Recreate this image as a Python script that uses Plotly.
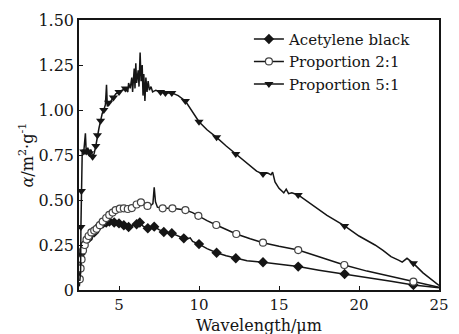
import plotly.graph_objects as go

# ---------------- data ----------------
ab_x = [2.52, 2.55, 2.6, 2.65, 2.75, 2.9, 3.1, 3.3, 3.45, 3.6, 3.8, 4.0, 4.2, 4.4, 4.7, 5.0, 5.3, 5.6,
        5.9, 6.1, 6.3, 6.5, 6.8, 7.2, 7.5, 7.8, 8.3, 8.7, 9.05, 9.3, 9.45, 9.6, 10.0, 10.5, 11.1, 11.7,
        12.3, 13.0, 14.0, 15.0, 16.2, 17.5, 19.1, 20.5, 22.0, 23.4, 25.0]
ab_y = [0.03, 0.10, 0.20, 0.26, 0.27, 0.26, 0.265, 0.28, 0.32, 0.34, 0.36, 0.37, 0.375, 0.38, 0.375,
        0.37, 0.36, 0.35, 0.36, 0.365, 0.375, 0.355, 0.343, 0.352, 0.335, 0.322, 0.315, 0.30, 0.287,
        0.285, 0.29, 0.27, 0.255, 0.23, 0.207, 0.19, 0.176, 0.163, 0.154, 0.142, 0.13, 0.11, 0.089,
        0.07, 0.048, 0.028, 0.012]
ab_marker_x = [2.6, 3.45, 3.8, 4.0, 4.2, 4.4, 4.7, 5.0, 5.3, 5.6, 6.1, 6.3, 6.8, 7.2, 7.8, 8.3, 9.05,
               10.0, 11.1, 12.3, 14.0, 16.2, 19.1, 23.4]

p21_x = [2.52, 2.55, 2.6, 2.66, 2.75, 2.86, 2.97, 3.1, 3.27, 3.45, 3.6, 3.8, 3.98, 4.2, 4.39, 4.6,
         4.79, 5.05, 5.3, 5.55, 5.8, 6.1, 6.37, 6.6, 6.78, 7.0, 7.12, 7.2, 7.28, 7.4, 7.73, 8.34, 8.8,
         9.15, 9.6, 9.96, 10.5, 11.08, 11.7, 12.33, 13.2, 14.0, 15.0, 16.2, 17.5, 19.08, 20.5, 22.0,
         23.4, 25.0]
p21_y = [0.02, 0.06, 0.12, 0.17, 0.22, 0.25, 0.28, 0.30, 0.32, 0.33, 0.34, 0.36, 0.38, 0.40, 0.417,
         0.43, 0.444, 0.452, 0.454, 0.45, 0.455, 0.475, 0.487, 0.47, 0.467, 0.47, 0.48, 0.57, 0.49,
         0.46, 0.454, 0.454, 0.45, 0.444, 0.43, 0.412, 0.385, 0.361, 0.335, 0.311, 0.285, 0.263,
         0.243, 0.222, 0.185, 0.139, 0.105, 0.075, 0.046, 0.015]
p21_marker_x = [2.55, 2.6, 2.66, 2.75, 2.86, 2.97, 3.1, 3.27, 3.45, 3.6, 3.8, 3.98, 4.2, 4.39, 4.6,
                4.79, 5.05, 5.3, 5.55, 5.8, 6.1, 6.37, 6.78, 7.73, 8.34, 9.15, 9.96, 11.08, 12.33,
                14.0, 16.2, 19.08, 23.4]

p51_x = [2.55, 2.6, 2.62, 2.65, 2.7, 2.8, 2.9, 2.95, 3.05, 3.15, 3.25, 3.35, 3.45, 3.55, 3.65, 3.75,
         3.85, 3.95, 4.05, 4.15, 4.22, 4.27, 4.35, 4.5, 4.65, 4.8, 5.0, 5.2, 5.4, 5.55, 5.6, 5.7, 5.8,
         5.85, 5.95, 6.0, 6.05, 6.1, 6.2, 6.25, 6.32, 6.38, 6.45, 6.5, 6.55, 6.62, 6.68, 6.75, 6.82,
         6.9, 7.0, 7.1, 7.3, 7.6, 7.9, 8.3, 8.7, 9.15, 9.6, 10.0, 10.5, 11.1, 11.7, 12.3, 13.0, 13.6,
         14.0, 14.3, 14.5, 14.6, 14.75, 15.0, 15.3, 15.45, 15.6, 15.8, 16.2, 17.0, 18.0, 19.1, 20.0,
         20.5, 21.0, 21.5, 22.0, 22.5, 22.7, 23.0, 23.4, 24.0, 24.5, 25.0]
p51_y = [0.05, 0.10, 0.35, 0.55, 0.76, 0.77, 0.87, 0.77, 0.79, 0.76, 0.78, 0.74, 0.76, 0.80, 0.86,
         0.90, 0.94, 0.98, 1.00, 1.03, 1.14, 1.02, 1.04, 1.05, 1.07, 1.09, 1.10, 1.11, 1.12, 1.10,
         1.15, 1.12, 1.18, 1.10, 1.23, 1.12, 1.26, 1.15, 1.22, 1.13, 1.32, 1.16, 1.25, 1.08, 1.20,
         1.05, 1.18, 1.10, 1.16, 1.11, 1.13, 1.10, 1.11, 1.10, 1.095, 1.095, 1.08, 1.05, 0.99, 0.935,
         0.89, 0.848, 0.80, 0.755, 0.70, 0.66, 0.644, 0.65, 0.64, 0.655, 0.60, 0.565, 0.54, 0.56,
         0.535, 0.54, 0.528, 0.48, 0.415, 0.356, 0.30, 0.275, 0.25, 0.22, 0.185, 0.165, 0.155, 0.176,
         0.148, 0.095, 0.06, 0.025]
p51_marker_x = [2.62, 2.65, 2.8, 2.95, 3.15, 3.35, 3.55, 3.65, 3.85, 4.05, 4.35, 4.65, 5.0, 5.4,
                7.6, 7.9, 8.3, 9.15, 10.0, 11.1, 12.3, 14.0, 16.2, 19.1, 23.4]

series_names = ["Acetylene black", "Proportion 2:1", "Proportion 5:1"]
x_ticks = [5, 10, 15, 20, 25]
y_ticks = [0, 0.25, 0.5, 0.75, 1.0, 1.25, 1.5]
y_tick_text = ["0", "0.25", "0.50", "0.75", "1.00", "1.25", "1.50"]

# ---------------- figure ----------------
FONT = "DejaVu Serif"
INK = "#151515"
fig = go.Figure()

markers = [
    dict(symbol="diamond", size=8, color=INK, line=dict(width=0)),
    dict(symbol="circle", size=7, color="white", line=dict(color="#444444", width=1.2)),
    dict(symbol="triangle-down", size=8, color=INK, line=dict(width=0)),
]
series = [(ab_x, ab_y, ab_marker_x), (p21_x, p21_y, p21_marker_x), (p51_x, p51_y, p51_marker_x)]

for name, (xs, ys, mx), mk in zip(series_names, series, markers):
    lookup = dict(zip(xs, ys))
    fig.add_trace(go.Scatter(x=xs, y=ys, mode="lines", line=dict(color=INK, width=1.5),
                             showlegend=False, hoverinfo="skip"))
    fig.add_trace(go.Scatter(x=mx, y=[lookup[v] for v in mx], mode="markers", marker=mk,
                             showlegend=False))
    fig.add_trace(go.Scatter(x=[None], y=[None], mode="lines+markers", name=name,
                             line=dict(color=INK, width=1.5), marker=mk))

fig.update_layout(
    width=459, height=334,
    margin=dict(l=79, r=10, t=20, b=44),
    paper_bgcolor="white", plot_bgcolor="white",
    font=dict(family=FONT, size=16, color=INK),
    showlegend=True,
    legend=dict(x=0.472, y=0.99, xanchor="left", yanchor="top", bgcolor="rgba(0,0,0,0)",
                font=dict(family=FONT, size=15, color=INK), tracegroupgap=0, itemwidth=30),
    xaxis=dict(range=[2.5, 25], tickvals=x_ticks, ticks="inside", ticklen=4, tickcolor=INK,
               showline=True, linecolor=INK, linewidth=1.5, mirror=True, showgrid=False,
               zeroline=False, tickfont=dict(family=FONT, size=15, color=INK)),
    yaxis=dict(range=[0, 1.5], tickvals=y_ticks, ticktext=y_tick_text, ticks="inside", ticklen=4,
               tickcolor=INK, showline=True, linecolor=INK, linewidth=1.5, mirror=True,
               showgrid=False, zeroline=False, tickfont=dict(family=FONT, size=16, color=INK)),
    annotations=[
        dict(text="Wavelength/μm", xref="paper", yref="paper", x=0.5, y=-0.132, xanchor="center",
             yanchor="middle", showarrow=False, font=dict(family=FONT, size=16, color=INK)),
        dict(text="<i>α</i>/m<sup>2</sup>·g<sup>-1</sup>", xref="paper", yref="paper", x=-0.146,
             y=0.5, xanchor="center", yanchor="middle", textangle=-90, showarrow=False,
             font=dict(family=FONT, size=16, color=INK)),
    ],
)

fig.write_html("out.html", config={"displayModeBar": False},
               post_script="document.body.style.margin='0';")
